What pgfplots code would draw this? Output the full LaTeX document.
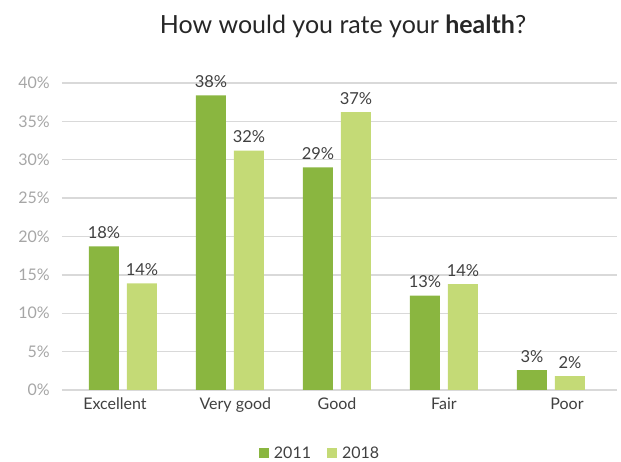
\documentclass[border=0pt]{standalone}
\usepackage{fontspec}
\setmainfont{Lato}
\usepackage{pgfplots}
\pgfplotsset{compat=1.18}
\definecolor{cA}{HTML}{8AB640}
\definecolor{cB}{HTML}{C4DA76}
\definecolor{gridc}{HTML}{D9D9D9}
\definecolor{tickc}{HTML}{A6A6A6}
\definecolor{labc}{HTML}{404040}
\begin{document}
\begin{tikzpicture}[x=1pt,y=1pt]
\path[use as bounding box] (0,0) rectangle (621,462);
\node[anchor=base, font=\fontsize{25}{25}\selectfont, text=black!85] at (343,428) {How would you rate your \textbf{health}?};
\begin{axis}[
  at={(62pt,72pt)}, anchor=south west,
  scale only axis, width=555pt, height=307pt,
  ybar=8pt, bar width=30pt,
  xmin=-0.570, xmax=4.617, ymin=0, ymax=40,
  axis line style={draw=none},
  major tick length=0pt,
  ytick={0,5,...,40},
  yticklabel={\pgfmathprintnumber{\tick}\%},
  /pgf/number format/assume math mode=true,
  yticklabel style={font=\fontsize{16}{16}\selectfont, text=tickc, inner sep=0pt, xshift=-12pt},
  ymajorgrids, grid style={draw=gridc, line width=1.3pt},
  xtick={-0.075,1.05,2,3,4.15},
  xticklabels={Excellent,Very good,Good,Fair,Poor},
  xticklabel style={font=\fontsize{16}{16}\selectfont, text=labc, inner sep=0pt, anchor=north, yshift=-8pt},
  nodes near coords, point meta=explicit symbolic,
  nodes near coords style={font=\fontsize{16.5}{16}\selectfont, text=labc, anchor=south, inner sep=0pt, yshift=7.5pt},
  clip=false,
  legend columns=2,
  legend style={at={(0.465,0)}, anchor=center, yshift=-63pt, draw=none, fill=none,
    font=\fontsize{16}{16}\selectfont, text=labc,
    /tikz/every odd column/.append style={column sep=3pt},
    /tikz/every even column/.append style={column sep=14pt}},
  legend image code/.code={\fill[#1] (0pt,-5pt) rectangle (10pt,5pt);},
]
\addplot[fill=cA, draw=none] coordinates {(0,18.7) [18\%] (1,38.4) [38\%] (2,29.0) [29\%] (3,12.3) [13\%] (4,2.6) [3\%]};
\addplot[fill=cB, draw=none] coordinates {(0,13.9) [14\%] (1,31.2) [32\%] (2,36.2) [37\%] (3,13.8) [14\%] (4,1.8) [2\%]};
\legend{2011,2018}
\end{axis}
\end{tikzpicture}
\end{document}
